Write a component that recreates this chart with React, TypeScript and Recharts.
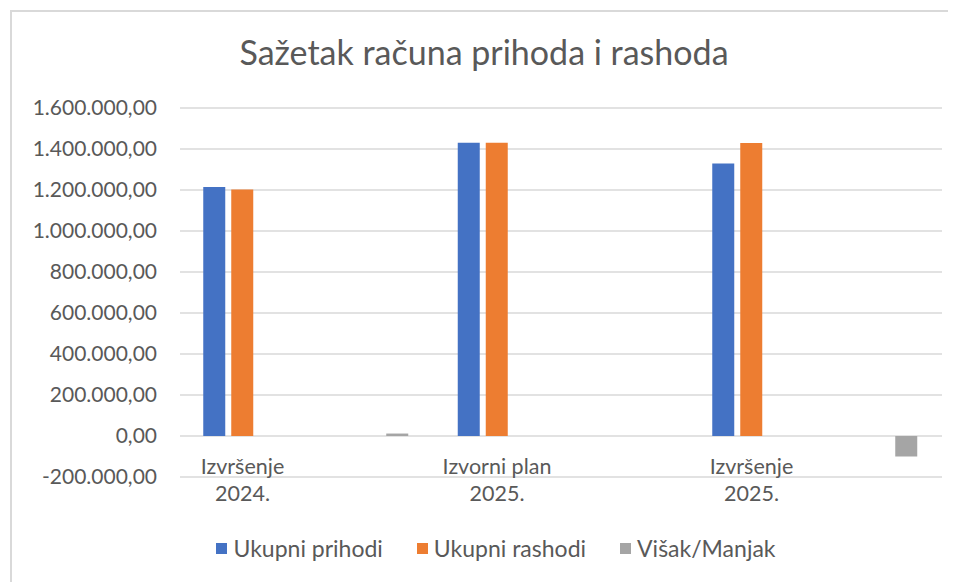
import { Bar, BarChart, CartesianGrid, Legend, XAxis, YAxis } from 'recharts';

const categories = ['Izvršenje 2024.', 'Izvorni plan 2025.', 'Izvršenje 2025.'];
const seriesNames = ['Ukupni prihodi', 'Ukupni rashodi', 'Višak/Manjak'];
const prihodi = [1215000, 1431000, 1329000];
const rashodi = [1203000, 1431000, 1429000];
const visakManjak = [12000, 0, -100000];
const yTicks = [-200000, 0, 200000, 400000, 600000, 800000, 1000000, 1200000, 1400000, 1600000];

const colors = ['#4472C4', '#ED7D31', '#A5A5A5'];
const textColor = '#595959';
const gridColor = '#D9D9D9';
const font = 'Lato, "Open Sans", sans-serif';

const data = categories.map((name, i) => ({
  name,
  prihodi: prihodi[i],
  rashodi: rashodi[i],
  visak: visakManjak[i],
}));

// 1.600.000,00 style
function formatHr(v: number): string {
  const neg = v < 0;
  const [int, dec] = Math.abs(v).toFixed(2).split('.');
  const grouped = int.replace(/\B(?=(\d{3})+(?!\d))/g, '.');
  return (neg ? '-' : '') + grouped + ',' + dec;
}

function CategoryTick({ x, y, payload }: any) {
  const label: string = payload.value;
  const cut = label.lastIndexOf(' ');
  const lines = [label.slice(0, cut), label.slice(cut + 1)];
  return (
    <text x={x} y={y} textAnchor="middle" fill={textColor} fontSize={21.5} fontFamily={font}>
      {lines.map((line, i) => (
        <tspan key={i} x={x} dy={i === 0 ? -3 : 27}>
          {line}
        </tspan>
      ))}
    </text>
  );
}

function LegendContent() {
  return (
    <div
      style={{
        display: 'flex',
        justifyContent: 'center',
        alignItems: 'center',
        height: 30,
        paddingLeft: 38,
        fontFamily: font,
        fontSize: 23,
        color: textColor,
      }}
    >
      {seriesNames.map((name, i) => (
        <div key={name} style={{ display: 'flex', alignItems: 'center', margin: '0 17px' }}>
          <span style={{ width: 11, height: 11, background: colors[i], marginRight: 6 }} />
          <span>{name}</span>
        </div>
      ))}
    </div>
  );
}

export default function App() {
  return (
    <div
      style={{
        position: 'relative',
        marginLeft: 2,
        marginTop: 2,
        width: 946,
        height: 572,
        borderTop: `2px solid ${gridColor}`,
        borderLeft: `2px solid ${gridColor}`,
        background: '#fff',
        fontFamily: font,
      }}
    >
      <div
        style={{
          position: 'absolute',
          top: 20,
          left: 0,
          width: 944,
          textAlign: 'center',
          fontSize: 34,
          color: textColor,
          lineHeight: '40px',
        }}
      >
        Sažetak računa prihoda i rashoda
      </div>
      <div style={{ position: 'absolute', top: 0, left: 0 }}>
        <BarChart
          width={944}
          height={566}
          data={data}
          barGap={6}
          margin={{ top: 96, right: 14, bottom: 15, left: 0 }}
        >
          <CartesianGrid stroke={gridColor} strokeWidth={1.5} vertical={false} />
          <YAxis
            domain={[-200000, 1600000]}
            ticks={yTicks}
            tickFormatter={formatHr}
            width={168}
            axisLine={false}
            tickLine={false}
            tickSize={0}
            tickMargin={23}
            tick={{ fill: textColor, fontSize: 21, fontFamily: font }}
            interval={0}
          />
          <XAxis
            xAxisId="main"
            dataKey="name"
            height={56}
            axisLine={false}
            tickLine={false}
            tickSize={0}
            tickMargin={0}
            interval={0}
            padding={{ left: -64.75, right: 63.25 }}
            tick={<CategoryTick />}
          />
          <XAxis
            xAxisId="net"
            dataKey="name"
            hide
            padding={{ left: 90.25, right: -91.75 }}
          />
          <Legend verticalAlign="bottom" height={30} content={<LegendContent />} />
          <Bar xAxisId="main" dataKey="prihodi" name={seriesNames[0]} fill={colors[0]} barSize={22} isAnimationActive={false} />
          <Bar xAxisId="main" dataKey="rashodi" name={seriesNames[1]} fill={colors[1]} barSize={22} isAnimationActive={false} />
          <Bar xAxisId="main" dataKey="slot" legendType="none" fill="none" barSize={22} isAnimationActive={false} />
          <Bar xAxisId="net" dataKey="visak" name={seriesNames[2]} fill={colors[2]} barSize={22} isAnimationActive={false} />
        </BarChart>
      </div>
    </div>
  );
}
